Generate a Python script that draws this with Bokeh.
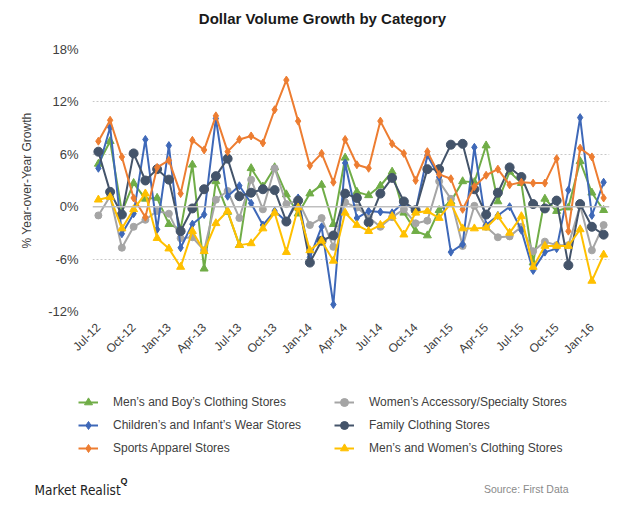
import math
from bokeh.plotting import figure
from bokeh.layouts import column
from bokeh.models import (FixedTicker, Span, Label, Legend, LegendItem, ColumnDataSource,
                          Range1d)
from bokeh.embed import file_html
from bokeh.resources import INLINE

months = ["Jul-12", "Aug-12", "Sep-12", "Oct-12", "Nov-12", "Dec-12", "Jan-13", "Feb-13", "Mar-13",
          "Apr-13", "May-13", "Jun-13", "Jul-13", "Aug-13", "Sep-13", "Oct-13", "Nov-13", "Dec-13",
          "Jan-14", "Feb-14", "Mar-14", "Apr-14", "May-14", "Jun-14", "Jul-14", "Aug-14", "Sep-14",
          "Oct-14", "Nov-14", "Dec-14", "Jan-15", "Feb-15", "Mar-15", "Apr-15", "May-15", "Jun-15",
          "Jul-15", "Aug-15", "Sep-15", "Oct-15", "Nov-15", "Dec-15", "Jan-16", "Feb-16"]

mens_boys = [4.9, 7.5, -0.6, 2.7, 0.9, 1.0, -2.0, -2.6, 4.8, -7.1, 2.9, -0.6, -4.4, 4.4, 2.3,
             4.5, 1.4, -0.8, 1.5, 2.5, -2.0, 5.6, 1.7, 1.3, 2.4, 4.0, -0.7, -2.8, -3.3, -0.4,
             0.6, 2.9, 2.8, 7.0, 0.6, 4.0, 2.7, -6.4, 0.9, -0.5, -0.1, 5.2, 1.6, -0.4]
womens_acc = [-1.0, 1.2, -4.7, -2.3, -1.5, -0.5, -0.8, -3.6, -3.5, -5.0, 0.8, 1.8, -1.3, 3.1, -0.3,
              4.4, 0.3, 0.7, -2.1, -1.3, -4.6, 0.5, -0.1, -1.2, -2.3, -1.2, -0.3, -1.9, -1.6, 2.9,
              0.9, -4.5, 0.1, -2.3, -3.5, -3.4, -2.3, -5.1, -4.0, -4.4, -4.4, 0.1, -5.0, -2.1]
childrens = [4.4, 9.1, -3.1, -0.8, 7.7, -2.6, 7.0, -4.7, -2.0, -0.9, 10.1, 1.2, 2.4, 0.4, -2.1,
             -0.5, -1.7, 1.0, -5.8, -2.3, -11.2, 5.0, -1.3, -0.5, -0.6, -0.7, 0.5, -0.5, 5.9, 3.4,
             -5.2, -4.3, 6.8, -2.1, -1.0, 0.0, -2.7, -7.3, -5.2, -4.8, 1.9, 10.2, -1.0, 2.8]
family = [6.3, 1.7, -0.9, 6.1, 3.0, 4.3, 3.1, -2.8, -0.2, 2.0, 3.5, 5.5, 1.2, 1.6, 2.0,
          1.9, -1.7, 0.7, -6.4, -3.9, -3.3, 1.5, 1.0, -1.8, 1.5, 3.3, 0.6, -0.4, 4.3, 4.3,
          7.1, 7.2, 2.0, -0.9, 1.6, 4.5, 3.4, 0.3, -0.2, 0.7, -6.7, 0.3, -2.3, -3.2]
sports = [7.5, 9.9, 5.7, 1.0, -1.2, 4.5, 5.3, 1.5, 7.6, 6.5, 10.4, 6.3, 7.7, 8.1, 7.3,
          11.1, 14.5, 9.8, 4.7, 6.1, 2.8, 7.7, 4.8, 4.4, 9.8, 7.2, 6.1, 3.0, 6.3, 3.7,
          3.2, -0.3, 2.3, 3.6, 4.3, 2.5, 2.8, 2.7, 2.7, 5.5, -2.8, 6.7, 5.7, 1.0]
mens_womens = [0.8, 1.1, -2.5, -0.3, 1.5, -3.6, -4.8, -6.9, -2.8, -5.1, -1.9, -0.5, -4.4, -4.2, -2.5,
               -0.7, -5.2, -0.1, -5.0, -3.9, -6.2, -0.7, -2.1, -2.8, -2.1, -1.1, -3.2, -0.7, -0.5, -1.3,
               0.4, -2.5, -2.5, -2.4, -1.1, -3.0, -1.1, -6.9, -4.5, -4.5, -4.5, -2.6, -8.5, -5.5]

y_ticks = [-12, -6, 0, 6, 12, 18]
x_tick_every = 3

FONT = "Liberation Sans"
W = 624


def blank(height):
    f = figure(width=W, height=height, output_backend="svg", toolbar_location=None,
               x_range=(0, W), y_range=(0, height), x_axis_location=None, y_axis_location=None,
               min_border=0, min_border_left=0, min_border_right=0, min_border_top=0,
               min_border_bottom=0, frame_align=False)
    f.outline_line_color = None
    f.xgrid.visible = False
    f.ygrid.visible = False
    return f


# ---- title strip
top = blank(39)
top.add_layout(Label(x=322, y=21, text="Dollar Volume Growth by Category", text_align="center",
                     text_baseline="middle", text_font=FONT, text_font_size="15px",
                     text_font_style="bold", text_color="#1a1a1a"))

# ---- main chart
p = figure(width=W, height=327, output_backend="svg", toolbar_location=None,
           x_range=(-0.5, len(months) - 0.5), y_range=(-12, 18),
           min_border_left=92, min_border_right=15, min_border_top=10, min_border_bottom=55,
           frame_align=False)
p.outline_line_color = None

p.yaxis.ticker = FixedTicker(ticks=y_ticks)
p.yaxis.major_label_overrides = {t: f"{t}%" for t in y_ticks}
p.yaxis.axis_label = "% Year-over-Year Growth"
p.yaxis.axis_label_text_font = FONT
p.yaxis.axis_label_text_font_style = "normal"
p.yaxis.axis_label_text_font_size = "12px"
p.yaxis.axis_label_text_color = "#404040"
p.yaxis.axis_label_standoff = 11
p.yaxis.major_label_text_font = FONT
p.yaxis.major_label_text_font_size = "13px"
p.yaxis.major_label_text_color = "#404040"
p.yaxis.major_label_standoff = 8
p.yaxis.axis_line_color = None
p.yaxis.major_tick_line_color = None
p.yaxis.minor_tick_line_color = None

xt = list(range(0, len(months), x_tick_every))
p.xaxis.ticker = FixedTicker(ticks=xt)
p.xaxis.major_label_overrides = {i: months[i] for i in xt}
p.xaxis.major_label_orientation = math.pi / 4
p.xaxis.major_label_text_font = FONT
p.xaxis.major_label_text_font_size = "12px"
p.xaxis.major_label_text_color = "#404040"
p.xaxis.major_label_standoff = 8
p.xaxis.axis_line_color = None
p.xaxis.major_tick_line_color = None
p.xaxis.minor_tick_line_color = None

p.xgrid.grid_line_color = None
p.ygrid.ticker = FixedTicker(ticks=[t for t in y_ticks if t != 0])
p.ygrid.grid_line_color = "#c8c8c8"
p.ygrid.grid_line_dash = "2 2"
p.ygrid.grid_line_width = 1
p.add_layout(Span(location=0, dimension="width", line_color="#bfbfbf", line_width=1.5))

x = list(range(len(months)))
series = [
    ("Men\u2019s and Boy\u2019s Clothing Stores", mens_boys, "#70ad47", "triangle", 8),
    ("Women\u2019s Accessory/Specialty Stores", womens_acc, "#a5a5a5", "circle", 7),
    ("Children\u2019s and Infant\u2019s Wear Stores", childrens, "#3e68b8", "diamond", 8),
    ("Family Clothing Stores", family, "#44546a", "circle", 9),
    ("Sports Apparel Stores", sports, "#ed7d31", "diamond", 8),
    ("Men\u2019s and Women\u2019s Clothing Stores", mens_womens, "#ffc000", "triangle", 8),
]

sources = {}
for name, vals, color, marker, size in series:
    src = ColumnDataSource(dict(x=x, y=vals))
    sources[name] = src
    p.line("x", "y", source=src, line_color=color, line_width=2)
    p.scatter("x", "y", source=src, marker=marker, size=size, fill_color=color, line_color=color)

# ---- legend + footer strip (legend renderers live on an off-screen range)
bot = blank(146)
bot.extra_x_ranges = {"off": Range1d(1000, 2000)}
items = {}
for name, vals, color, marker, size in series:
    src = sources[name]
    l = bot.line("x", "y", source=src, line_color=color, line_width=2, x_range_name="off")
    s = bot.scatter("x", "y", source=src, marker=marker, size=6, fill_color=color,
                    line_color=color, x_range_name="off")
    items[name] = LegendItem(label=name, renderers=[l, s])

names = [s[0] for s in series]
left_items = [items[names[0]], items[names[2]], items[names[4]]]
right_items = [items[names[1]], items[names[3]], items[names[5]]]
for its, lx in ((left_items, 78), (right_items, 334)):
    lg = Legend(items=its, location=(lx, 54), orientation="vertical",
                border_line_color=None, background_fill_alpha=0,
                padding=0, margin=0, spacing=3, glyph_width=20, glyph_height=20,
                label_height=20, label_standoff=15,
                label_text_font=FONT, label_text_font_size="12px", label_text_color="#404040")
    bot.add_layout(lg, "center")

bot.add_layout(Label(x=34, y=23, text="Market Realist", text_align="left", text_baseline="middle",
                     text_font="'DejaVu Sans Condensed', 'Liberation Sans', sans-serif",
                     text_font_size="13.5px", text_color="#222222"))
bot.add_layout(Label(x=120, y=32, text="Q", text_align="left", text_baseline="middle",
                     text_font=FONT, text_font_size="9px", text_font_style="bold",
                     text_color="#222222"))
bot.add_layout(Label(x=568, y=24, text="Source: First Data", text_align="right",
                     text_baseline="middle", text_font=FONT, text_font_size="10.5px",
                     text_color="#8a8a8a"))

layout = column(top, p, bot, spacing=0)
open("out.html", "w").write(file_html(layout, INLINE))
